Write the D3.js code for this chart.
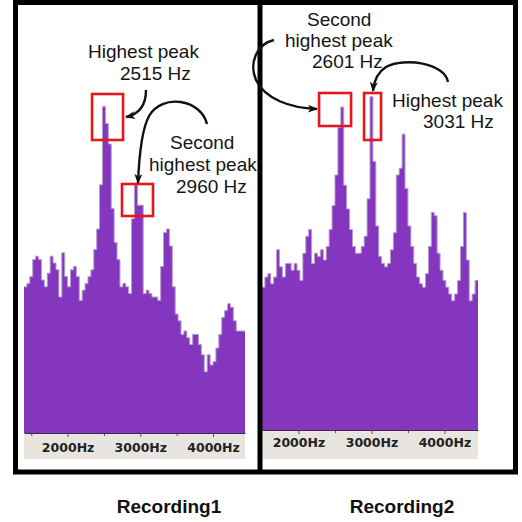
<!DOCTYPE html>
<html>
<head>
<meta charset="utf-8">
<script src="https://cdnjs.cloudflare.com/ajax/libs/d3/7.8.5/d3.min.js"></script>
<style>
  html, body { margin: 0; padding: 0; background: #ffffff; }
  .note { font-family: "Liberation Sans", Arial, sans-serif; font-size: 19px; fill: #151515; }
  .caption { font-family: "Liberation Sans", Arial, sans-serif; font-size: 19px; font-weight: bold; fill: #111111; }
  .tick text { font-family: "DejaVu Sans", sans-serif; font-size: 12.5px; font-weight: bold; fill: #222222; }
</style>
</head>
<body>
<svg id="canvas"></svg>
<script>
////////////////////////////////////////////////////////////////////////////////
// Data (40 Hz bins, level in % of plot height).
////////////////////////////////////////////////////////////////////////////////
var binWidthHz = 40;

var rec1StartHz = 1400;
var rec1Levels = [43, 44, 46, 51, 52, 51, 45, 43, 47, 52,
                  50, 48, 40, 53, 46, 43, 48, 49, 46, 39,
                  42, 44, 46, 48, 54, 60, 73, 96, 91, 85,
                  66, 56, 51, 43, 44, 43, 41, 63, 73, 67,
                  67, 41, 42, 41, 40, 40, 39, 49, 59, 60,
                  55, 43, 35, 33, 29, 30, 28, 26, 29, 29,
                  26, 23, 18, 23, 20, 21, 25, 29, 34, 36,
                  38, 37, 33, 30, 30, 30];

var rec2StartHz = 1500;
var rec2Levels = [42, 45, 46, 43, 45, 53, 48, 45, 49, 49,
                  47, 49, 47, 44, 52, 57, 59, 49, 52, 51,
                  53, 50, 54, 59, 66, 75, 89, 95, 72, 65,
                  59, 54, 52, 52, 54, 57, 68, 98, 79, 60,
                  51, 49, 48, 49, 53, 58, 75, 77, 87, 71,
                  60, 54, 49, 45, 43, 42, 46, 54, 64, 63,
                  52, 47, 44, 42, 40, 38, 40, 44, 54, 64,
                  50, 38, 40, 44];

// Axis ticks.
var majorTicksHz = [2000, 3000, 4000];
var rec1MinorTicksHz = [1500, 2500, 3500];
var rec2MinorTicksHz = [2500, 3500];

// Peaks that are marked (Hz).
var rec1PeaksHz = [2515, 2960];
var rec2PeaksHz = [2601, 3031];

// Labels.
var recordingNames = ['Recording1', 'Recording2'];
var rec1NoteLines = ['Highest peak', '2515 Hz', 'Second', 'highest peak', '2960 Hz'];
var rec2NoteLines = ['Second', 'highest peak', '2601 Hz', 'Highest peak', '3031 Hz'];

////////////////////////////////////////////////////////////////////////////////
// Layout.
////////////////////////////////////////////////////////////////////////////////
var canvas = { width: 522, height: 522 };

var colour = {
  bars: '#8436bf',
  tips: '#b69ccb',
  band: '#e8e5e0',
  axis: '#3b2d48',
  box: '#e3171c',
  ink: '#111111'
};

var panels = [
  {
    start: rec1StartHz, levels: rec1Levels, minor: rec1MinorTicksHz, peaks: rec1PeaksHz,
    left: 24, right: 245, baseline: 433, bandBottom: 459, labelY: 19,
    caption: { x: 169, y: 513 },
    notes: [[88, 58], [120, 80], [170, 149], [149, 171], [176, 193]],
    lines: rec1NoteLines,
    boxes: [{ dx: -13, w: 31, top: 94, bottom: 140 }, { dx: -15.4, w: 31, top: 184, bottom: 216 }]
  },
  {
    start: rec2StartHz, levels: rec2Levels, minor: rec2MinorTicksHz, peaks: rec2PeaksHz,
    left: 262, right: 478, baseline: 430, bandBottom: 459, labelY: 17,
    caption: { x: 402, y: 513 },
    notes: [[307, 26], [285, 47], [312, 68], [392, 107], [423, 128]],
    lines: rec2NoteLines,
    boxes: [{ dx: -23.3, w: 32, top: 93, bottom: 126 }, { dx: -9.7, w: 17, top: 93, bottom: 140 }]
  }
];

// Curved arrows from the notes to the boxes.
var arrowPaths = [
  'M146,90 C146,104 140,114 126,117',
  'M207,124 C201,99 162,93 149,116 C141,131 139,158 138,183',
  'M274,40 C256,44 249,64 256,80 C265,99 290,108 317,109',
  'M448,82 C445,63 404,57 386,67 C378,72 374,80 373,91'
];

////////////////////////////////////////////////////////////////////////////////
// Drawing.
////////////////////////////////////////////////////////////////////////////////
var svg = d3.select('#canvas')
            .attr('width', canvas.width)
            .attr('height', canvas.height);

svg.append('rect')
    .attr('width', canvas.width)
    .attr('height', canvas.height)
    .attr('fill', '#ffffff');

// Arrow head.
svg.append('defs').append('marker')
    .attr('id', 'head')
    .attr('viewBox', '0 0 10 10')
    .attr('refX', 9)
    .attr('refY', 5)
    .attr('markerWidth', 10)
    .attr('markerHeight', 10)
    .attr('markerUnits', 'userSpaceOnUse')
    .attr('orient', 'auto')
    .append('path')
    .attr('d', 'M0,1 L10,5 L0,9 L2.5,5 Z')
    .attr('fill', colour.ink);

panels.forEach(function(p, k) {

  // Bin edges: each level holds until the next bin starts.
  var bins = p.levels.map(function(v, i) { return { hz: p.start + i * binWidthHz, v: v }; });
  bins.push({ hz: p.start + p.levels.length * binWidthHz, v: p.levels[p.levels.length - 1] });

  // Frequency scale.
  var x = d3.scaleLinear()
            .domain([p.start, bins[bins.length - 1].hz])
            .range([p.left, p.right]);

  // Level scale.
  var y = d3.scaleLinear()
            .domain([0, 100])
            .range([p.baseline, p.baseline - 340]);

  // Grey band under the spectrum.
  svg.append('rect')
      .attr('x', p.left)
      .attr('y', p.baseline)
      .attr('width', p.right - p.left)
      .attr('height', p.bandBottom - p.baseline)
      .attr('fill', colour.band);

  // Spectrum as a stepped area.
  var area = d3.area()
               .curve(d3.curveStepAfter)
               .x(function(d) { return x(d.hz); })
               .y0(y(0))
               .y1(function(d) { return y(d.v); });

  svg.append('path')
      .datum(bins)
      .attr('d', area)
      .attr('fill', colour.bars);

  // Light outline along the bin tops.
  var top = d3.line()
              .curve(d3.curveStepAfter)
              .x(function(d) { return x(d.hz); })
              .y(function(d) { return y(d.v); });

  svg.append('path')
      .datum(bins)
      .attr('d', top)
      .attr('fill', 'none')
      .attr('stroke', colour.tips)
      .attr('stroke-width', 1);

  // Minor ticks.
  var minorAxis = svg.append('g')
      .attr('transform', 'translate(0,' + p.baseline + ')')
      .call(d3.axisBottom(x).tickValues(p.minor).tickSize(3).tickFormat(''));
  minorAxis.select('.domain').remove();
  minorAxis.selectAll('line').attr('stroke', '#555555');

  // Major ticks with labels.
  var axis = svg.append('g')
      .attr('transform', 'translate(0,' + p.baseline + ')')
      .call(d3.axisBottom(x)
              .tickValues(majorTicksHz)
              .tickSize(4)
              .tickSizeOuter(0)
              .tickFormat(function(d) { return d + 'Hz'; }));
  axis.select('.domain').attr('stroke', colour.axis).attr('stroke-width', 1.2);
  axis.selectAll('line').attr('stroke', '#555555');
  axis.selectAll('text').attr('y', p.labelY).attr('dy', 0);

  // Red boxes round the marked peaks.
  p.peaks.forEach(function(hz, j) {
    var b = p.boxes[j];
    svg.append('rect')
        .attr('x', x(hz) + b.dx)
        .attr('y', b.top)
        .attr('width', b.w)
        .attr('height', b.bottom - b.top)
        .attr('fill', 'none')
        .attr('stroke', colour.box)
        .attr('stroke-width', 2.6);
  });

  // Notes.
  p.lines.forEach(function(t, j) {
    svg.append('text')
        .attr('class', 'note')
        .attr('x', p.notes[j][0])
        .attr('y', p.notes[j][1])
        .text(t);
  });

  // Caption under the frame.
  svg.append('text')
      .attr('class', 'caption')
      .attr('text-anchor', 'middle')
      .attr('x', p.caption.x)
      .attr('y', p.caption.y)
      .text(recordingNames[k]);
});

// Black frame and divider.
svg.append('rect')
    .attr('x', 15.5)
    .attr('y', 2.5)
    .attr('width', 500)
    .attr('height', 469.5)
    .attr('fill', 'none')
    .attr('stroke', '#000000')
    .attr('stroke-width', 5);

svg.append('line')
    .attr('x1', 260)
    .attr('x2', 260)
    .attr('y1', 2)
    .attr('y2', 474)
    .attr('stroke', '#000000')
    .attr('stroke-width', 5);

// Arrows.
svg.selectAll('.arrow')
    .data(arrowPaths)
    .enter()
    .append('path')
    .attr('class', 'arrow')
    .attr('d', function(d) { return d; })
    .attr('fill', 'none')
    .attr('stroke', colour.ink)
    .attr('stroke-width', 2.4)
    .attr('marker-end', 'url(#head)');
</script>
</body>
</html>
